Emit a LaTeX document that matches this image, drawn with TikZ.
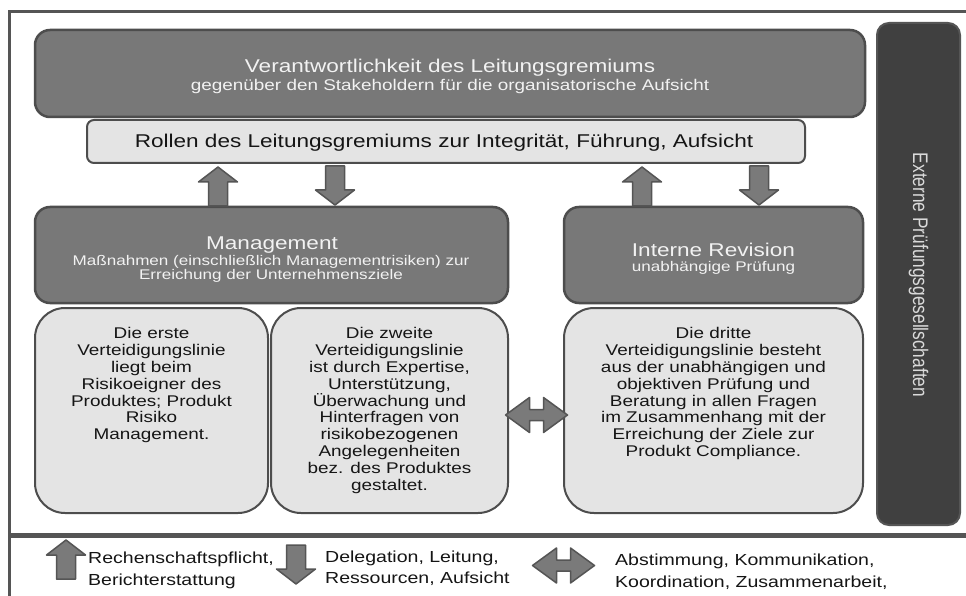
\documentclass[tikz,border=0pt]{standalone}
\usepackage{fontspec}
\setmainfont[FakeStretch=1.22]{Liberation Sans}
\newfontfamily\extfont{Liberation Sans}

\definecolor{boxgray}{HTML}{787878}
\definecolor{boxedge}{HTML}{4D4D4D}
\definecolor{lightfill}{HTML}{E4E4E4}
\definecolor{darkfill}{HTML}{404040}
\definecolor{framegray}{HTML}{555555}
\definecolor{arrowfill}{HTML}{7A7A7A}
\definecolor{txtlight}{HTML}{F2F2F2}
\definecolor{txtext}{HTML}{DADADA}
\definecolor{txtdark}{HTML}{151515}

\tikzset{
  darkbox/.style={draw=boxedge, fill=boxgray, line width=2.5pt, rounded corners=15pt, inner sep=0pt},
  rolebox/.style={draw=boxedge, fill=lightfill, line width=2pt, rounded corners=7pt, inner sep=0pt},
  linebox/.style={draw=boxedge, fill=lightfill, line width=2pt, rounded corners=30pt, inner sep=0pt},
  extbox/.style={draw=framegray, fill=darkfill, line width=2pt, rounded corners=12pt, inner sep=0pt},
  titletext/.style={anchor=base, inner sep=0pt, text=txtlight, font=\fontsize{18.5pt}{22pt}\selectfont},
  subtext/.style={anchor=base, inner sep=0pt, text=txtlight, font=\fontsize{15.5pt}{18pt}\selectfont},
  smalltext/.style={anchor=base, inner sep=0pt, text=txtlight, font=\fontsize{14pt}{16pt}\selectfont},
  linetext/.style={anchor=north, inner sep=0pt, align=center, text=txtdark, font=\fontsize{15.5pt}{16.8pt}\selectfont},
  legendtext/.style={anchor=base west, inner sep=0pt, text=txtdark, font=\fontsize{16pt}{20pt}\selectfont},
  blockarrow/.style={draw=framegray, fill=arrowfill, line width=1.5pt, line join=round},
  pics/uparrowsym/.style={code={
    \filldraw[blockarrow] (0,0) -- (19.5,15) -- (9.5,15) -- (9.5,39) -- (-9.5,39)
      -- (-9.5,15) -- (-19.5,15) -- cycle;}},
  pics/downarrowsym/.style={code={
    \filldraw[blockarrow] (0,0) -- (19.5,-15) -- (9.5,-15) -- (9.5,-39) -- (-9.5,-39)
      -- (-9.5,-15) -- (-19.5,-15) -- cycle;}},
  pics/dblarrowsym/.style={code={
    \filldraw[blockarrow] (-31,0) -- (-7,-17.5) -- (-7,-5.5) -- (7,-5.5) -- (7,-17.5)
      -- (31,0) -- (7,17.5) -- (7,5.5) -- (-7,5.5) -- (-7,17.5) -- cycle;}},
}

\begin{document}
\begin{tikzpicture}[x=1pt, y=-1pt]
  \clip (0,0) rectangle (966,596);
  \fill[white] (0,0) rectangle (966,596);

  % outer frame and legend divider
  \draw[framegray, line width=3pt] (980,11.5) -- (9.5,11.5) -- (9.5,600);
  \draw[framegray, line width=5.5pt] (9.5,535.5) -- (980,535.5);

  % governing body
  \node[darkbox, minimum width=830pt, minimum height=87pt] (board) at (450,73.5) {};
  \node[titletext] (boardT) at (450,72.5) {Verantwortlichkeit des Leitungsgremiums};
  \node[subtext] (boardS) at (450,90.5) {gegenüber den Stakeholdern für die organisatorische Aufsicht};

  \node[rolebox, minimum width=718pt, minimum height=43pt] (roles) at (446,141.5) {};
  \node[titletext, text=txtdark] (rolesT) at (444,148) {Rollen des Leitungsgremiums zur Integrität, Führung, Aufsicht};

  % management and internal audit
  \node[darkbox, minimum width=473pt, minimum height=96pt] (mgmt) at (271.5,255) {};
  \node[titletext] (mgmtT) at (272,249) {Management};
  \node[smalltext] (mgmtS1) at (271,265) {Maßnahmen (einschließlich Managementrisiken) zur};
  \node[smalltext] (mgmtS2) at (271,279.3) {Erreichung der Unternehmensziele};

  \node[darkbox, minimum width=299pt, minimum height=96pt] (audit) at (713.5,255) {};
  \node[titletext] (auditT) at (713.5,256) {Interne Revision};
  \node[smalltext] (auditS) at (713.5,271.7) {unabhängige Prüfung};

  % lines of defence
  \node[linebox, minimum width=233pt, minimum height=205pt] (first) at (151.5,410.5) {};
  \node[linetext] (firstT) at (151.5,327.5) {Die erste\\Verteidigungslinie\\liegt beim\\Risikoeigner des\\Produktes; Produkt\\Risiko\\Management.};

  \node[linebox, minimum width=237pt, minimum height=205pt] (second) at (389.5,410.5) {};
  \node[linetext] (secondT) at (389.5,327.5) {Die zweite\\Verteidigungslinie\\ist durch Expertise,\\Unterstützung,\\Überwachung und\\Hinterfragen von\\risikobezogenen\\Angelegenheiten\\bez. des Produktes\\gestaltet.};

  \node[linebox, minimum width=299pt, minimum height=205pt] (third) at (713.5,410.5) {};
  \node[linetext] (thirdT) at (713.5,327.5) {Die dritte\\Verteidigungslinie besteht\\aus der unabhängigen und\\objektiven Prüfung und\\Beratung in allen Fragen\\im Zusammenhang mit der\\Erreichung der Ziele zur\\Produkt Compliance.};

  % external auditors
  \node[extbox, minimum width=83pt, minimum height=502pt] (ext) at (918.5,274) {};
  \node[rotate=-90, inner sep=0pt, text=txtext] (extT) at (918.5,275)
    {\extfont\fontsize{17.3pt}{20pt}\selectfont\scalebox{1}[1.22]{Externe Prüfungsgesellschaften}};

  % reporting and delegation arrows
  \pic at (218,167) {uparrowsym};
  \pic at (335,205) {downarrowsym};
  \pic at (642,167) {uparrowsym};
  \pic at (759,205) {downarrowsym};
  \pic at (536.5,415) {dblarrowsym};

  % legend
  \pic at (66,540) {uparrowsym};
  \node[legendtext] (legA1) at (88,563) {Rechenschaftspflicht,};
  \node[legendtext] (legA2) at (88,585) {Berichterstattung};
  \pic at (296,584) {downarrowsym};
  \node[legendtext] (legB1) at (325,562) {Delegation, Leitung,};
  \node[legendtext] (legB2) at (325,583) {Ressourcen, Aufsicht};
  \pic at (563.5,565.5) {dblarrowsym};
  \node[legendtext] (legC1) at (615,565) {Abstimmung, Kommunikation,};
  \node[legendtext] (legC2) at (615,587) {Koordination, Zusammenarbeit,};
\end{tikzpicture}
\end{document}
